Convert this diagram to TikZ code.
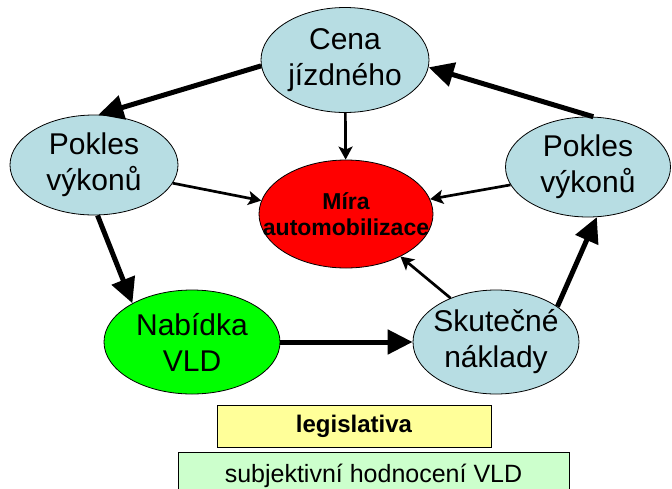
\documentclass[tikz,border=0pt]{standalone}
\usepackage{fontspec}
\setmainfont{Liberation Sans}
\usetikzlibrary{shapes.geometric,arrows.meta}
\definecolor{paleblue}{RGB}{183,221,227}
\definecolor{paleyellow}{RGB}{255,255,153}
\definecolor{palegreen}{RGB}{204,255,204}
\begin{document}
\begin{tikzpicture}[x=1pt, y=-1pt,
  every node/.style={align=center},
  bubble/.style={draw, ellipse, line width=0.8pt, inner sep=-15pt, fill=paleblue,
    font=\fontsize{30}{36}\selectfont},
  lowtext/.style={execute at begin node={\rule{0pt}{#1}}},
  bar/.style={draw, rectangle, line width=0.8pt, inner sep=0pt},
  bigarrow/.style={line width=5pt, -{Triangle[length=25pt,width=24pt]}},
  smallarrow/.style={line width=2.7pt, -{Stealth[length=13pt,width=14pt,inset=3pt]}}
]
\useasboundingbox (0,0) rectangle (672,488);
\clip (0,0) rectangle (672,488);

\node[bubble, lowtext=33pt, minimum width=168pt, minimum height=105pt] (cena) at (345,60) {Cena\\jízdného};
\node[bubble, lowtext=35pt, minimum width=168pt, minimum height=100pt] (poklesL) at (94,165) {Pokles\\výkonů};
\node[bubble, lowtext=35pt, minimum width=165pt, minimum height=100pt] (poklesR) at (588,167) {Pokles\\výkonů};
\node[bubble, fill=red, minimum width=174pt, minimum height=108pt, inner xsep=-40pt,
  font=\fontsize{23}{26}\selectfont\bfseries] (mira) at (346,214) {Míra\\automobilizace};
\node[bubble, fill=green, minimum width=176pt, minimum height=104pt] (nabidka) at (192,342) {Nabídka\\VLD};
\node[bubble, minimum width=166pt, minimum height=104pt] (naklady) at (496,342) {Skutečné\\náklady};

\node[bar, fill=paleyellow, minimum width=274pt, minimum height=42pt,
  font=\fontsize{24}{28}\selectfont\bfseries] (legis) at (354,426) {legislativa};
\node[bar, fill=palegreen, minimum width=391pt, minimum height=48pt,
  font=\fontsize{25}{30}\selectfont] (subj) at (373.5,476) {subjektivní hodnocení VLD};

\draw[bigarrow] (cena.184) -- (poklesL.85);
\draw[bigarrow] (poklesR.84) -- (cena.355);
\draw[bigarrow] (poklesL.274) -- (nabidka.147);
\draw[bigarrow] (nabidka) -- (naklady);
\draw[bigarrow] (naklady.30) -- (poklesR.280);

\draw[smallarrow] (cena) -- (mira);
\draw[smallarrow] (poklesL.347) -- (mira.171);
\draw[smallarrow] (poklesR.193) -- (mira.10);
\draw[smallarrow] (naklady.136) -- (mira.322);
\end{tikzpicture}
\end{document}
